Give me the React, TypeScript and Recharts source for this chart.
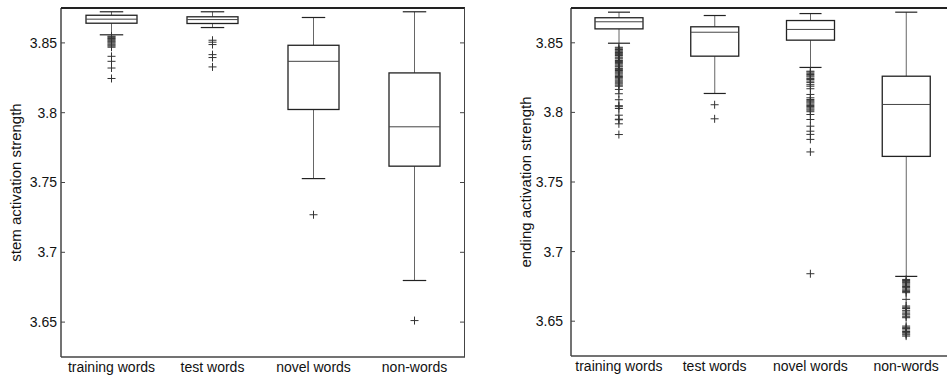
import React from "react";
import { ComposedChart, Bar, Scatter, XAxis, YAxis } from "recharts";

const categories = ["training words", "test words", "novel words", "non-words"];
const yTicks = [3.65, 3.7, 3.75, 3.8, 3.85];

// stem activation panel
const stemHigh = [3.8723, 3.8723, 3.8682, 3.8723];
const stemQ3 = [3.8698, 3.8687, 3.8483, 3.8285];
const stemMedian = [3.867, 3.8667, 3.8368, 3.7899];
const stemQ1 = [3.8641, 3.8639, 3.8023, 3.7617];
const stemLow = [3.8558, 3.861, 3.7528, 3.6798];
const stemOutliers = [
  [3.8548, 3.8543, 3.8537, 3.8531, 3.8526, 3.8519, 3.8512, 3.8506, 3.8499, 3.8491, 3.8484, 3.8477, 3.8469, 3.8404, 3.8368, 3.832, 3.8245],
  [3.8519, 3.8505, 3.8488, 3.8416, 3.8395, 3.8328],
  [3.7269],
  [3.6511],
];

// ending activation panel
const endHigh = [3.872, 3.8696, 3.871, 3.872];
const endQ3 = [3.868, 3.8615, 3.866, 3.826];
const endMedian = [3.8651, 3.8576, 3.8596, 3.8057];
const endQ1 = [3.86, 3.8404, 3.8519, 3.7684];
const endLow = [3.8497, 3.8136, 3.8323, 3.6822];
const endOutliers = [
  [3.8468, 3.8461, 3.8452, 3.8447, 3.8439, 3.843, 3.8424, 3.8415, 3.8409, 3.8398, 3.8391, 3.8384, 3.8373, 3.8366, 3.8358, 3.835, 3.8341, 3.8333, 3.8327, 3.8316, 3.8309, 3.8301, 3.8292, 3.8284, 3.8276, 3.8267, 3.8258, 3.825, 3.8241, 3.8232, 3.8224, 3.8213, 3.8205, 3.8196, 3.8188, 3.8165, 3.8134, 3.8091, 3.8048, 3.8041, 3.8028, 3.798, 3.7951, 3.7947, 3.7918, 3.7841],
  [3.8055, 3.7954],
  [3.8296, 3.829, 3.8281, 3.8272, 3.8263, 3.8255, 3.8244, 3.8236, 3.8225, 3.8214, 3.8199, 3.8188, 3.817, 3.8129, 3.8105, 3.8093, 3.8084, 3.8076, 3.8068, 3.8059, 3.805, 3.8042, 3.8033, 3.8024, 3.8016, 3.8005, 3.7985, 3.7949, 3.7901, 3.7865, 3.7842, 3.7806, 3.7716, 3.6841],
  [3.68, 3.6792, 3.6784, 3.6777, 3.6768, 3.6759, 3.6749, 3.6741, 3.6731, 3.6722, 3.6713, 3.6705, 3.6657, 3.6609, 3.66, 3.6591, 3.6578, 3.6566, 3.6553, 3.6545, 3.6532, 3.6525, 3.6465, 3.6456, 3.6448, 3.6437, 3.6426, 3.6418, 3.6409, 3.6402, 3.6393],
];

const FONT = "'Liberation Sans', Arial, Helvetica, sans-serif";

function buildRows(low: number[], q1: number[], med: number[], q3: number[], high: number[]) {
  return categories.map((name, i) => ({
    name,
    range: [low[i], high[i]],
    q1: q1[i],
    median: med[i],
    q3: q3[i],
  }));
}

function buildOutliers(list: number[][]) {
  const pts: { name: string; value: number }[] = [];
  list.forEach((vals, i) => vals.forEach((value) => pts.push({ name: categories[i], value })));
  return pts;
}

function BoxShape(props: any) {
  const { x, y, width, height, payload } = props;
  const [lo, hi] = payload.range;
  const top = Math.min(y, y + height);
  const bottom = Math.max(y, y + height);
  const py = (v: number) => bottom - ((v - lo) / (hi - lo)) * (bottom - top);
  const cx = x + width / 2;
  const cap = width * 0.23;
  return (
    <g>
      <line x1={cx} x2={cx} y1={top} y2={py(payload.q3)} stroke="#666" strokeWidth={1} />
      <line x1={cx} x2={cx} y1={py(payload.q1)} y2={bottom} stroke="#666" strokeWidth={1} />
      <line x1={cx - cap} x2={cx + cap} y1={top} y2={top} stroke="#222" strokeWidth={1.2} />
      <line x1={cx - cap} x2={cx + cap} y1={bottom} y2={bottom} stroke="#222" strokeWidth={1.2} />
      <rect
        x={x}
        y={py(payload.q3)}
        width={width}
        height={py(payload.q1) - py(payload.q3)}
        fill="#fff"
        stroke="#222"
        strokeWidth={1.3}
      />
      <line x1={x} x2={x + width} y1={py(payload.median)} y2={py(payload.median)} stroke="#444" strokeWidth={1} />
    </g>
  );
}

function PlusShape(props: any) {
  const { cx, cy } = props;
  return <path d={`M${cx - 4},${cy}h8M${cx},${cy - 4}v8`} stroke="#333" strokeWidth={1} fill="none" />;
}

function makeTick(margin: number, plotWidth: number) {
  return function Tick(props: any) {
    const { x, y, payload } = props;
    const ax = x + margin;
    return (
      <g>
        <text x={x} y={y} dy="0.35em" textAnchor="end" fill="#111" fontSize={14} fontFamily={FONT}>
          {String(payload.value)}
        </text>
        <line x1={ax} x2={ax + 4} y1={y} y2={y} stroke="#444" />
        <line x1={ax + plotWidth - 5} x2={ax + plotWidth} y1={y} y2={y} stroke="#444" />
      </g>
    );
  };
}

type PanelProps = {
  left: number;
  yWidth: number;
  rightMargin: number;
  xHeight: number;
  tickMargin: number;
  barSize: number;
  label: string;
  labelDx: number;
  rows: any[];
  outliers: any[];
};

const CHART_W = 480;
const CHART_H = 379;
const TOP = 8;

function Panel(p: PanelProps) {
  const plotWidth = CHART_W - p.yWidth - p.rightMargin;
  const plotBottom = CHART_H - p.xHeight;
  return (
    <div style={{ position: "absolute", left: p.left, top: 0, width: CHART_W, height: CHART_H }}>
      <ComposedChart
        width={CHART_W}
        height={CHART_H}
        data={p.rows}
        margin={{ top: TOP, right: p.rightMargin, bottom: 0, left: 0 }}
      >
        <XAxis
          dataKey="name"
          type="category"
          allowDuplicatedCategory={false}
          interval={0}
          height={p.xHeight}
          tickLine={false}
          tickSize={0}
          tickMargin={5}
          axisLine={{ stroke: "#444", strokeWidth: 1.5 }}
          tick={{ fill: "#111", fontSize: 14, fontFamily: FONT }}
        />
        <YAxis
          type="number"
          domain={[3.625, 3.875]}
          ticks={yTicks}
          width={p.yWidth}
          tickLine={false}
          tickSize={0}
          tickMargin={p.tickMargin}
          axisLine={{ stroke: "#444", strokeWidth: 1.5 }}
          tick={makeTick(p.tickMargin, plotWidth)}
          label={{
            value: p.label,
            angle: -90,
            position: "center",
            dx: p.labelDx,
            fill: "#111",
            fontSize: 15,
            fontFamily: FONT,
          }}
        />
        <Bar dataKey="range" barSize={p.barSize} shape={<BoxShape />} isAnimationActive={false} />
        <Scatter data={p.outliers} dataKey="value" shape={<PlusShape />} isAnimationActive={false} />
      </ComposedChart>
      <div
        style={{
          position: "absolute",
          left: p.yWidth,
          top: TOP - 1,
          width: plotWidth,
          height: plotBottom - TOP + 1,
          borderTop: "2px solid #222",
          borderRight: "1.5px solid #444",
          boxSizing: "border-box",
          pointerEvents: "none",
        }}
      />
    </div>
  );
}

export default function App() {
  const stemRows = buildRows(stemLow, stemQ1, stemMedian, stemQ3, stemHigh);
  const endRows = buildRows(endLow, endQ1, endMedian, endQ3, endHigh);
  return (
    <div
      style={{
        position: "absolute",
        left: 0,
        top: 0,
        width: 947,
        height: 379,
        overflow: "hidden",
        background: "#fff",
      }}
    >
      <Panel
        left={0}
        yWidth={61}
        rightMargin={15}
        xHeight={22}
        tickMargin={4}
        barSize={51}
        label="stem activation strength"
        labelDx={-15}
        rows={stemRows}
        outliers={buildOutliers(stemOutliers)}
      />
      <Panel
        left={480}
        yWidth={91}
        rightMargin={6}
        xHeight={23}
        tickMargin={8}
        barSize={48}
        label="ending activation strength"
        labelDx={0}
        rows={endRows}
        outliers={buildOutliers(endOutliers)}
      />
    </div>
  );
}
